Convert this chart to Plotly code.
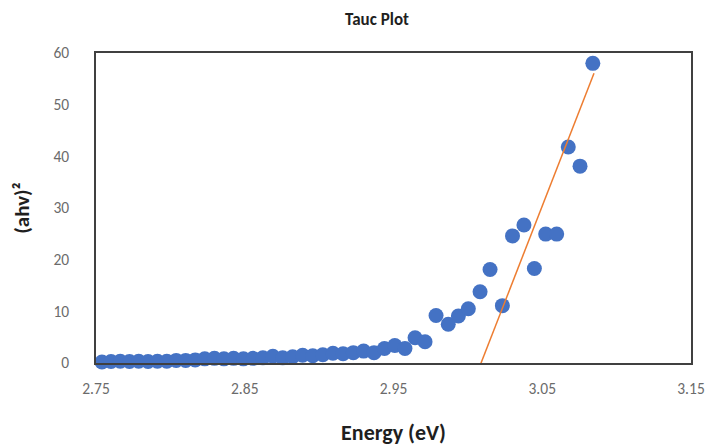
import plotly.graph_objects as go

energy = [2.7540, 2.7601, 2.7663, 2.7725, 2.7787, 2.7850, 2.7913, 2.7976,
          2.8039, 2.8103, 2.8167, 2.8231, 2.8296, 2.8360, 2.8425, 2.8491,
          2.8556, 2.8622, 2.8689, 2.8755, 2.8822, 2.8889, 2.8957, 2.9025,
          2.9093, 2.9161, 2.9230, 2.9299, 2.9369, 2.9439, 2.9509, 2.9577,
          2.9645, 2.9712, 2.9786, 2.9868, 2.9936, 3.0003, 3.0082, 3.0149,
          3.0232, 3.0300, 3.0377, 3.0447, 3.0523, 3.0597, 3.0675, 3.0754,
          3.0840]
ahv2 = [0.2, 0.3, 0.35, 0.3, 0.35, 0.3, 0.35, 0.35,
        0.5, 0.5, 0.6, 0.8, 0.9, 0.8, 0.9, 0.8,
        0.9, 1.0, 1.3, 1.0, 1.2, 1.5, 1.4, 1.6,
        1.9, 1.8, 2.0, 2.3, 2.0, 2.8, 3.4, 2.8,
        4.9, 4.1, 9.2, 7.5, 9.1, 10.5, 13.8, 18.1,
        11.1, 24.6, 26.7, 18.3, 24.95, 24.95, 41.8, 38.1,
        58.0]

fit_x = [3.0075, 3.0848]
fit_y = [-1.0, 56.1]

x_ticks = [2.75, 2.85, 2.95, 3.05, 3.15]
y_ticks = [0, 10, 20, 30, 40, 50, 60]

FONT = "Carlito, Lato, sans-serif"
GREY = "#6b6b6b"
DARK = "#1f1f1f"

fig = go.Figure()
fig.add_trace(go.Scatter(
    x=energy, y=ahv2, mode="markers",
    marker=dict(size=15, color="#4472C4"),
    cliponaxis=False, showlegend=False))
fig.add_trace(go.Scatter(
    x=fit_x, y=fit_y, mode="lines",
    line=dict(color="#ED7D31", width=1.5),
    showlegend=False))

fig.update_layout(
    width=710, height=447,
    margin=dict(l=96, r=19, t=53, b=84, autoexpand=False),
    paper_bgcolor="white", plot_bgcolor="white",
    font=dict(family=FONT, color=GREY, size=15),
    title=dict(text="<b>Tauc Plot</b>", x=377/710, xanchor="center",
               y=1 - 19/447, yanchor="middle", xref="container", yref="container",
               font=dict(family=FONT, size=17, color=DARK)),
)
fig.update_xaxes(
    range=[2.75, 3.15], tickvals=x_ticks, ticktext=[f"{v:.2f}" for v in x_ticks],
    showgrid=False, zeroline=False, showline=True, mirror=True,
    linecolor="#404040", linewidth=1.5, automargin=False,
    ticks="outside", ticklen=11, tickcolor="rgba(0,0,0,0)",
    tickfont=dict(family=FONT, size=15.5, color=GREY),
    title=dict(text="<b>Energy (eV)</b>", standoff=27,
               font=dict(family=FONT, size=22, color=DARK)),
)
fig.update_yaxes(
    range=[0, 60], tickvals=y_ticks,
    showgrid=False, zeroline=False, showline=True, mirror=True,
    linecolor="#404040", linewidth=1.5, automargin=False,
    ticks="outside", ticklen=22, tickcolor="rgba(0,0,0,0)",
    tickfont=dict(family=FONT, size=15.5, color=GREY),
    title=dict(text="<b>(ahv)²</b>", standoff=18,
               font=dict(family=FONT, size=21, color=DARK)),
)

fig.write_html("out.html")
